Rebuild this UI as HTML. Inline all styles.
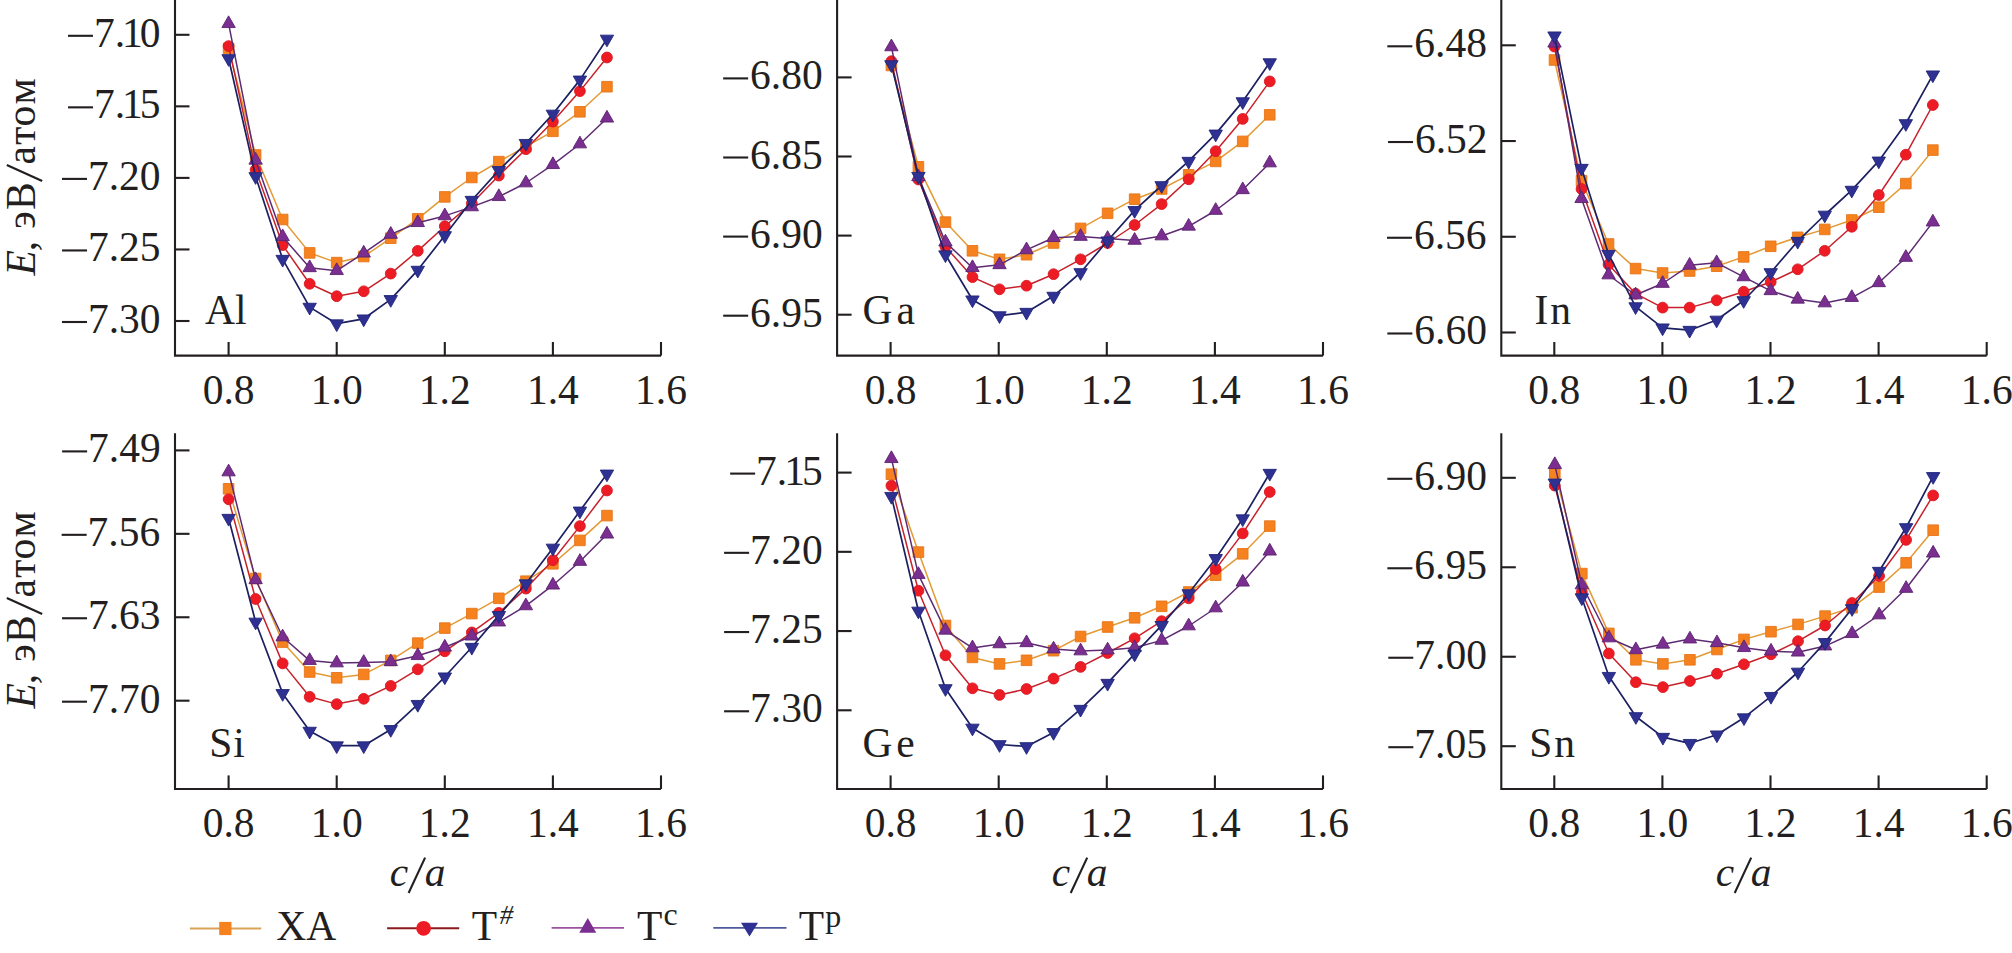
<!DOCTYPE html><html><head><meta charset="utf-8"><style>html,body{margin:0;padding:0;background:#fff;overflow:hidden}svg{display:block}</style></head><body>
<svg width="2012" height="953" viewBox="0 0 2012 953" font-family='"Liberation Serif", serif' fill="#231f20">
<path d="M175.0 0V355.6H661.00" fill="none" stroke="#231f20" stroke-width="2.1"/>
<line x1="228.60" y1="355.6" x2="228.60" y2="342.00" stroke="#231f20" stroke-width="2.1"/>
<text x="228.60" y="403.60" font-size="41.5" text-anchor="middle">0.8</text>
<line x1="336.70" y1="355.6" x2="336.70" y2="342.00" stroke="#231f20" stroke-width="2.1"/>
<text x="336.70" y="403.60" font-size="41.5" text-anchor="middle">1.0</text>
<line x1="444.80" y1="355.6" x2="444.80" y2="342.00" stroke="#231f20" stroke-width="2.1"/>
<text x="444.80" y="403.60" font-size="41.5" text-anchor="middle">1.2</text>
<line x1="552.90" y1="355.6" x2="552.90" y2="342.00" stroke="#231f20" stroke-width="2.1"/>
<text x="552.90" y="403.60" font-size="41.5" text-anchor="middle">1.4</text>
<line x1="661.00" y1="355.6" x2="661.00" y2="342.00" stroke="#231f20" stroke-width="2.1"/>
<text x="661.00" y="403.60" font-size="41.5" text-anchor="middle">1.6</text>
<line x1="175.0" y1="34.80" x2="189.50" y2="34.80" stroke="#231f20" stroke-width="2.1"/>
<rect x="67.99" y="34.75" width="25" height="2.1"/>
<text y="46.80" font-size="41.5"><tspan x="93.96">7</tspan><tspan x="114.71">.</tspan><tspan x="122.08">1</tspan><tspan x="139.83">0</tspan></text>
<line x1="175.0" y1="106.35" x2="189.50" y2="106.35" stroke="#231f20" stroke-width="2.1"/>
<rect x="68.03" y="106.30" width="25" height="2.1"/>
<text y="118.35" font-size="41.5"><tspan x="94.00">7</tspan><tspan x="114.75">.</tspan><tspan x="122.12">1</tspan><tspan x="139.87">5</tspan></text>
<line x1="175.0" y1="177.90" x2="189.50" y2="177.90" stroke="#231f20" stroke-width="2.1"/>
<rect x="61.99" y="177.85" width="25" height="2.1"/>
<text y="189.90" font-size="41.5"><tspan x="87.96">7</tspan><tspan x="108.71">.</tspan><tspan x="119.08">2</tspan><tspan x="139.83">0</tspan></text>
<line x1="175.0" y1="249.45" x2="189.50" y2="249.45" stroke="#231f20" stroke-width="2.1"/>
<rect x="62.03" y="249.40" width="25" height="2.1"/>
<text y="261.45" font-size="41.5"><tspan x="88.00">7</tspan><tspan x="108.75">.</tspan><tspan x="119.12">2</tspan><tspan x="139.87">5</tspan></text>
<line x1="175.0" y1="321.00" x2="189.50" y2="321.00" stroke="#231f20" stroke-width="2.1"/>
<rect x="61.99" y="320.95" width="25" height="2.1"/>
<text y="333.00" font-size="41.5"><tspan x="87.96">7</tspan><tspan x="108.71">.</tspan><tspan x="119.08">3</tspan><tspan x="139.83">0</tspan></text>
<text y="323.70" font-size="41.5"><tspan x="204.96">A</tspan><tspan x="235.04">l</tspan></text>
<path d="M228.60 48.50L255.62 155.00L282.65 219.50L309.67 252.90L336.70 262.60L363.73 256.50L390.75 238.20L417.77 218.80L444.80 196.90L471.82 177.50L498.85 161.60L525.88 146.50L552.90 131.30L579.92 111.80L606.95 86.70" fill="none" stroke="#e39a34" stroke-width="1.5" stroke-linejoin="round"/>
<rect x="223.30" y="43.20" width="10.60" height="10.60" fill="#f5821f" stroke="#e8761c" stroke-width="0.9" stroke-linejoin="round"/>
<rect x="250.32" y="149.70" width="10.60" height="10.60" fill="#f5821f" stroke="#e8761c" stroke-width="0.9" stroke-linejoin="round"/>
<rect x="277.35" y="214.20" width="10.60" height="10.60" fill="#f5821f" stroke="#e8761c" stroke-width="0.9" stroke-linejoin="round"/>
<rect x="304.37" y="247.60" width="10.60" height="10.60" fill="#f5821f" stroke="#e8761c" stroke-width="0.9" stroke-linejoin="round"/>
<rect x="331.40" y="257.30" width="10.60" height="10.60" fill="#f5821f" stroke="#e8761c" stroke-width="0.9" stroke-linejoin="round"/>
<rect x="358.43" y="251.20" width="10.60" height="10.60" fill="#f5821f" stroke="#e8761c" stroke-width="0.9" stroke-linejoin="round"/>
<rect x="385.45" y="232.90" width="10.60" height="10.60" fill="#f5821f" stroke="#e8761c" stroke-width="0.9" stroke-linejoin="round"/>
<rect x="412.47" y="213.50" width="10.60" height="10.60" fill="#f5821f" stroke="#e8761c" stroke-width="0.9" stroke-linejoin="round"/>
<rect x="439.50" y="191.60" width="10.60" height="10.60" fill="#f5821f" stroke="#e8761c" stroke-width="0.9" stroke-linejoin="round"/>
<rect x="466.52" y="172.20" width="10.60" height="10.60" fill="#f5821f" stroke="#e8761c" stroke-width="0.9" stroke-linejoin="round"/>
<rect x="493.55" y="156.30" width="10.60" height="10.60" fill="#f5821f" stroke="#e8761c" stroke-width="0.9" stroke-linejoin="round"/>
<rect x="520.58" y="141.20" width="10.60" height="10.60" fill="#f5821f" stroke="#e8761c" stroke-width="0.9" stroke-linejoin="round"/>
<rect x="547.60" y="126.00" width="10.60" height="10.60" fill="#f5821f" stroke="#e8761c" stroke-width="0.9" stroke-linejoin="round"/>
<rect x="574.62" y="106.50" width="10.60" height="10.60" fill="#f5821f" stroke="#e8761c" stroke-width="0.9" stroke-linejoin="round"/>
<rect x="601.65" y="81.40" width="10.60" height="10.60" fill="#f5821f" stroke="#e8761c" stroke-width="0.9" stroke-linejoin="round"/>
<path d="M228.60 46.10L255.62 169.70L282.65 245.10L309.67 283.80L336.70 296.20L363.73 291.30L390.75 273.60L417.77 250.90L444.80 226.20L471.82 203.40L498.85 175.60L525.88 149.20L552.90 121.60L579.92 91.10L606.95 57.50" fill="none" stroke="#c8202a" stroke-width="1.5" stroke-linejoin="round"/>
<circle cx="228.60" cy="46.10" r="5.40" fill="#ed1c24" stroke="#d81a22" stroke-width="0.9" stroke-linejoin="round"/>
<circle cx="255.62" cy="169.70" r="5.40" fill="#ed1c24" stroke="#d81a22" stroke-width="0.9" stroke-linejoin="round"/>
<circle cx="282.65" cy="245.10" r="5.40" fill="#ed1c24" stroke="#d81a22" stroke-width="0.9" stroke-linejoin="round"/>
<circle cx="309.67" cy="283.80" r="5.40" fill="#ed1c24" stroke="#d81a22" stroke-width="0.9" stroke-linejoin="round"/>
<circle cx="336.70" cy="296.20" r="5.40" fill="#ed1c24" stroke="#d81a22" stroke-width="0.9" stroke-linejoin="round"/>
<circle cx="363.73" cy="291.30" r="5.40" fill="#ed1c24" stroke="#d81a22" stroke-width="0.9" stroke-linejoin="round"/>
<circle cx="390.75" cy="273.60" r="5.40" fill="#ed1c24" stroke="#d81a22" stroke-width="0.9" stroke-linejoin="round"/>
<circle cx="417.77" cy="250.90" r="5.40" fill="#ed1c24" stroke="#d81a22" stroke-width="0.9" stroke-linejoin="round"/>
<circle cx="444.80" cy="226.20" r="5.40" fill="#ed1c24" stroke="#d81a22" stroke-width="0.9" stroke-linejoin="round"/>
<circle cx="471.82" cy="203.40" r="5.40" fill="#ed1c24" stroke="#d81a22" stroke-width="0.9" stroke-linejoin="round"/>
<circle cx="498.85" cy="175.60" r="5.40" fill="#ed1c24" stroke="#d81a22" stroke-width="0.9" stroke-linejoin="round"/>
<circle cx="525.88" cy="149.20" r="5.40" fill="#ed1c24" stroke="#d81a22" stroke-width="0.9" stroke-linejoin="round"/>
<circle cx="552.90" cy="121.60" r="5.40" fill="#ed1c24" stroke="#d81a22" stroke-width="0.9" stroke-linejoin="round"/>
<circle cx="579.92" cy="91.10" r="5.40" fill="#ed1c24" stroke="#d81a22" stroke-width="0.9" stroke-linejoin="round"/>
<circle cx="606.95" cy="57.50" r="5.40" fill="#ed1c24" stroke="#d81a22" stroke-width="0.9" stroke-linejoin="round"/>
<path d="M228.60 23.70L255.62 160.30L282.65 236.80L309.67 267.80L336.70 270.70L363.73 253.20L390.75 234.40L417.77 222.70L444.80 215.90L471.82 206.90L498.85 196.70L525.88 183.00L552.90 164.70L579.92 144.00L606.95 118.20" fill="none" stroke="#5e2b73" stroke-width="1.5" stroke-linejoin="round"/>
<path d="M228.60 15.85L235.30 27.55L221.90 27.55Z" fill="#7a2e8f" stroke="#5c2270" stroke-width="0.9" stroke-linejoin="round"/>
<path d="M255.62 152.45L262.32 164.15L248.93 164.15Z" fill="#7a2e8f" stroke="#5c2270" stroke-width="0.9" stroke-linejoin="round"/>
<path d="M282.65 228.95L289.35 240.65L275.95 240.65Z" fill="#7a2e8f" stroke="#5c2270" stroke-width="0.9" stroke-linejoin="round"/>
<path d="M309.67 259.95L316.37 271.65L302.97 271.65Z" fill="#7a2e8f" stroke="#5c2270" stroke-width="0.9" stroke-linejoin="round"/>
<path d="M336.70 262.85L343.40 274.55L330.00 274.55Z" fill="#7a2e8f" stroke="#5c2270" stroke-width="0.9" stroke-linejoin="round"/>
<path d="M363.73 245.35L370.43 257.05L357.03 257.05Z" fill="#7a2e8f" stroke="#5c2270" stroke-width="0.9" stroke-linejoin="round"/>
<path d="M390.75 226.55L397.45 238.25L384.05 238.25Z" fill="#7a2e8f" stroke="#5c2270" stroke-width="0.9" stroke-linejoin="round"/>
<path d="M417.77 214.85L424.47 226.55L411.07 226.55Z" fill="#7a2e8f" stroke="#5c2270" stroke-width="0.9" stroke-linejoin="round"/>
<path d="M444.80 208.05L451.50 219.75L438.10 219.75Z" fill="#7a2e8f" stroke="#5c2270" stroke-width="0.9" stroke-linejoin="round"/>
<path d="M471.82 199.05L478.52 210.75L465.12 210.75Z" fill="#7a2e8f" stroke="#5c2270" stroke-width="0.9" stroke-linejoin="round"/>
<path d="M498.85 188.85L505.55 200.55L492.15 200.55Z" fill="#7a2e8f" stroke="#5c2270" stroke-width="0.9" stroke-linejoin="round"/>
<path d="M525.88 175.15L532.58 186.85L519.17 186.85Z" fill="#7a2e8f" stroke="#5c2270" stroke-width="0.9" stroke-linejoin="round"/>
<path d="M552.90 156.85L559.60 168.55L546.20 168.55Z" fill="#7a2e8f" stroke="#5c2270" stroke-width="0.9" stroke-linejoin="round"/>
<path d="M579.92 136.15L586.62 147.85L573.22 147.85Z" fill="#7a2e8f" stroke="#5c2270" stroke-width="0.9" stroke-linejoin="round"/>
<path d="M606.95 110.35L613.65 122.05L600.25 122.05Z" fill="#7a2e8f" stroke="#5c2270" stroke-width="0.9" stroke-linejoin="round"/>
<path d="M228.60 58.50L255.62 176.50L282.65 259.20L309.67 307.10L336.70 323.70L363.73 318.80L390.75 299.40L417.77 270.10L444.80 235.50L471.82 200.20L498.85 170.40L525.88 143.30L552.90 114.00L579.92 79.90L606.95 39.00" fill="none" stroke="#1c2060" stroke-width="1.7" stroke-linejoin="round"/>
<path d="M221.90 54.65L235.30 54.65L228.60 66.35Z" fill="#2e3192" stroke="#23277a" stroke-width="0.9" stroke-linejoin="round"/>
<path d="M248.93 172.65L262.32 172.65L255.62 184.35Z" fill="#2e3192" stroke="#23277a" stroke-width="0.9" stroke-linejoin="round"/>
<path d="M275.95 255.35L289.35 255.35L282.65 267.05Z" fill="#2e3192" stroke="#23277a" stroke-width="0.9" stroke-linejoin="round"/>
<path d="M302.97 303.25L316.37 303.25L309.67 314.95Z" fill="#2e3192" stroke="#23277a" stroke-width="0.9" stroke-linejoin="round"/>
<path d="M330.00 319.85L343.40 319.85L336.70 331.55Z" fill="#2e3192" stroke="#23277a" stroke-width="0.9" stroke-linejoin="round"/>
<path d="M357.03 314.95L370.43 314.95L363.73 326.65Z" fill="#2e3192" stroke="#23277a" stroke-width="0.9" stroke-linejoin="round"/>
<path d="M384.05 295.55L397.45 295.55L390.75 307.25Z" fill="#2e3192" stroke="#23277a" stroke-width="0.9" stroke-linejoin="round"/>
<path d="M411.07 266.25L424.47 266.25L417.77 277.95Z" fill="#2e3192" stroke="#23277a" stroke-width="0.9" stroke-linejoin="round"/>
<path d="M438.10 231.65L451.50 231.65L444.80 243.35Z" fill="#2e3192" stroke="#23277a" stroke-width="0.9" stroke-linejoin="round"/>
<path d="M465.12 196.35L478.52 196.35L471.82 208.05Z" fill="#2e3192" stroke="#23277a" stroke-width="0.9" stroke-linejoin="round"/>
<path d="M492.15 166.55L505.55 166.55L498.85 178.25Z" fill="#2e3192" stroke="#23277a" stroke-width="0.9" stroke-linejoin="round"/>
<path d="M519.17 139.45L532.58 139.45L525.88 151.15Z" fill="#2e3192" stroke="#23277a" stroke-width="0.9" stroke-linejoin="round"/>
<path d="M546.20 110.15L559.60 110.15L552.90 121.85Z" fill="#2e3192" stroke="#23277a" stroke-width="0.9" stroke-linejoin="round"/>
<path d="M573.22 76.05L586.62 76.05L579.92 87.75Z" fill="#2e3192" stroke="#23277a" stroke-width="0.9" stroke-linejoin="round"/>
<path d="M600.25 35.15L613.65 35.15L606.95 46.85Z" fill="#2e3192" stroke="#23277a" stroke-width="0.9" stroke-linejoin="round"/>
<path d="M837.1 0V355.6H1323.00" fill="none" stroke="#231f20" stroke-width="2.1"/>
<line x1="890.60" y1="355.6" x2="890.60" y2="342.00" stroke="#231f20" stroke-width="2.1"/>
<text x="890.60" y="403.60" font-size="41.5" text-anchor="middle">0.8</text>
<line x1="998.70" y1="355.6" x2="998.70" y2="342.00" stroke="#231f20" stroke-width="2.1"/>
<text x="998.70" y="403.60" font-size="41.5" text-anchor="middle">1.0</text>
<line x1="1106.80" y1="355.6" x2="1106.80" y2="342.00" stroke="#231f20" stroke-width="2.1"/>
<text x="1106.80" y="403.60" font-size="41.5" text-anchor="middle">1.2</text>
<line x1="1214.90" y1="355.6" x2="1214.90" y2="342.00" stroke="#231f20" stroke-width="2.1"/>
<text x="1214.90" y="403.60" font-size="41.5" text-anchor="middle">1.4</text>
<line x1="1323.00" y1="355.6" x2="1323.00" y2="342.00" stroke="#231f20" stroke-width="2.1"/>
<text x="1323.00" y="403.60" font-size="41.5" text-anchor="middle">1.6</text>
<line x1="837.1" y1="77.40" x2="851.60" y2="77.40" stroke="#231f20" stroke-width="2.1"/>
<rect x="723.14" y="77.35" width="25" height="2.1"/>
<text y="89.40" font-size="41.5"><tspan x="750.06">6</tspan><tspan x="770.81">.</tspan><tspan x="781.18">8</tspan><tspan x="801.93">0</tspan></text>
<line x1="837.1" y1="156.50" x2="851.60" y2="156.50" stroke="#231f20" stroke-width="2.1"/>
<rect x="723.18" y="156.45" width="25" height="2.1"/>
<text y="168.50" font-size="41.5"><tspan x="750.10">6</tspan><tspan x="770.85">.</tspan><tspan x="781.22">8</tspan><tspan x="801.97">5</tspan></text>
<line x1="837.1" y1="235.60" x2="851.60" y2="235.60" stroke="#231f20" stroke-width="2.1"/>
<rect x="723.14" y="235.55" width="25" height="2.1"/>
<text y="247.60" font-size="41.5"><tspan x="750.06">6</tspan><tspan x="770.81">.</tspan><tspan x="781.18">9</tspan><tspan x="801.93">0</tspan></text>
<line x1="837.1" y1="314.70" x2="851.60" y2="314.70" stroke="#231f20" stroke-width="2.1"/>
<rect x="723.18" y="314.65" width="25" height="2.1"/>
<text y="326.70" font-size="41.5"><tspan x="750.10">6</tspan><tspan x="770.85">.</tspan><tspan x="781.22">9</tspan><tspan x="801.97">5</tspan></text>
<text y="323.70" font-size="41.5"><tspan x="862.61">G</tspan><tspan x="896.44">a</tspan></text>
<path d="M891.40 65.50L918.42 166.80L945.45 222.10L972.47 250.80L999.50 259.30L1026.53 254.70L1053.55 243.00L1080.58 228.40L1107.60 213.30L1134.62 199.20L1161.65 189.00L1188.67 174.80L1215.70 161.40L1242.72 141.40L1269.75 114.80" fill="none" stroke="#e39a34" stroke-width="1.5" stroke-linejoin="round"/>
<rect x="886.10" y="60.20" width="10.60" height="10.60" fill="#f5821f" stroke="#e8761c" stroke-width="0.9" stroke-linejoin="round"/>
<rect x="913.12" y="161.50" width="10.60" height="10.60" fill="#f5821f" stroke="#e8761c" stroke-width="0.9" stroke-linejoin="round"/>
<rect x="940.15" y="216.80" width="10.60" height="10.60" fill="#f5821f" stroke="#e8761c" stroke-width="0.9" stroke-linejoin="round"/>
<rect x="967.17" y="245.50" width="10.60" height="10.60" fill="#f5821f" stroke="#e8761c" stroke-width="0.9" stroke-linejoin="round"/>
<rect x="994.20" y="254.00" width="10.60" height="10.60" fill="#f5821f" stroke="#e8761c" stroke-width="0.9" stroke-linejoin="round"/>
<rect x="1021.23" y="249.40" width="10.60" height="10.60" fill="#f5821f" stroke="#e8761c" stroke-width="0.9" stroke-linejoin="round"/>
<rect x="1048.25" y="237.70" width="10.60" height="10.60" fill="#f5821f" stroke="#e8761c" stroke-width="0.9" stroke-linejoin="round"/>
<rect x="1075.28" y="223.10" width="10.60" height="10.60" fill="#f5821f" stroke="#e8761c" stroke-width="0.9" stroke-linejoin="round"/>
<rect x="1102.30" y="208.00" width="10.60" height="10.60" fill="#f5821f" stroke="#e8761c" stroke-width="0.9" stroke-linejoin="round"/>
<rect x="1129.33" y="193.90" width="10.60" height="10.60" fill="#f5821f" stroke="#e8761c" stroke-width="0.9" stroke-linejoin="round"/>
<rect x="1156.35" y="183.70" width="10.60" height="10.60" fill="#f5821f" stroke="#e8761c" stroke-width="0.9" stroke-linejoin="round"/>
<rect x="1183.38" y="169.50" width="10.60" height="10.60" fill="#f5821f" stroke="#e8761c" stroke-width="0.9" stroke-linejoin="round"/>
<rect x="1210.40" y="156.10" width="10.60" height="10.60" fill="#f5821f" stroke="#e8761c" stroke-width="0.9" stroke-linejoin="round"/>
<rect x="1237.42" y="136.10" width="10.60" height="10.60" fill="#f5821f" stroke="#e8761c" stroke-width="0.9" stroke-linejoin="round"/>
<rect x="1264.45" y="109.50" width="10.60" height="10.60" fill="#f5821f" stroke="#e8761c" stroke-width="0.9" stroke-linejoin="round"/>
<path d="M891.40 61.20L918.42 179.50L945.45 246.70L972.47 277.10L999.50 289.30L1026.53 285.70L1053.55 274.20L1080.58 259.30L1107.60 243.00L1134.62 225.00L1161.65 204.10L1188.67 179.30L1215.70 151.20L1242.72 118.90L1269.75 81.40" fill="none" stroke="#c8202a" stroke-width="1.5" stroke-linejoin="round"/>
<circle cx="891.40" cy="61.20" r="5.40" fill="#ed1c24" stroke="#d81a22" stroke-width="0.9" stroke-linejoin="round"/>
<circle cx="918.42" cy="179.50" r="5.40" fill="#ed1c24" stroke="#d81a22" stroke-width="0.9" stroke-linejoin="round"/>
<circle cx="945.45" cy="246.70" r="5.40" fill="#ed1c24" stroke="#d81a22" stroke-width="0.9" stroke-linejoin="round"/>
<circle cx="972.47" cy="277.10" r="5.40" fill="#ed1c24" stroke="#d81a22" stroke-width="0.9" stroke-linejoin="round"/>
<circle cx="999.50" cy="289.30" r="5.40" fill="#ed1c24" stroke="#d81a22" stroke-width="0.9" stroke-linejoin="round"/>
<circle cx="1026.53" cy="285.70" r="5.40" fill="#ed1c24" stroke="#d81a22" stroke-width="0.9" stroke-linejoin="round"/>
<circle cx="1053.55" cy="274.20" r="5.40" fill="#ed1c24" stroke="#d81a22" stroke-width="0.9" stroke-linejoin="round"/>
<circle cx="1080.58" cy="259.30" r="5.40" fill="#ed1c24" stroke="#d81a22" stroke-width="0.9" stroke-linejoin="round"/>
<circle cx="1107.60" cy="243.00" r="5.40" fill="#ed1c24" stroke="#d81a22" stroke-width="0.9" stroke-linejoin="round"/>
<circle cx="1134.62" cy="225.00" r="5.40" fill="#ed1c24" stroke="#d81a22" stroke-width="0.9" stroke-linejoin="round"/>
<circle cx="1161.65" cy="204.10" r="5.40" fill="#ed1c24" stroke="#d81a22" stroke-width="0.9" stroke-linejoin="round"/>
<circle cx="1188.67" cy="179.30" r="5.40" fill="#ed1c24" stroke="#d81a22" stroke-width="0.9" stroke-linejoin="round"/>
<circle cx="1215.70" cy="151.20" r="5.40" fill="#ed1c24" stroke="#d81a22" stroke-width="0.9" stroke-linejoin="round"/>
<circle cx="1242.72" cy="118.90" r="5.40" fill="#ed1c24" stroke="#d81a22" stroke-width="0.9" stroke-linejoin="round"/>
<circle cx="1269.75" cy="81.40" r="5.40" fill="#ed1c24" stroke="#d81a22" stroke-width="0.9" stroke-linejoin="round"/>
<path d="M891.40 46.90L918.42 176.80L945.45 242.10L972.47 267.70L999.50 264.80L1026.53 249.90L1053.55 237.70L1080.58 236.50L1107.60 238.50L1134.62 240.40L1161.65 236.00L1188.67 226.30L1215.70 210.50L1242.72 189.80L1269.75 163.00" fill="none" stroke="#5e2b73" stroke-width="1.5" stroke-linejoin="round"/>
<path d="M891.40 39.05L898.10 50.75L884.70 50.75Z" fill="#7a2e8f" stroke="#5c2270" stroke-width="0.9" stroke-linejoin="round"/>
<path d="M918.42 168.95L925.12 180.65L911.72 180.65Z" fill="#7a2e8f" stroke="#5c2270" stroke-width="0.9" stroke-linejoin="round"/>
<path d="M945.45 234.25L952.15 245.95L938.75 245.95Z" fill="#7a2e8f" stroke="#5c2270" stroke-width="0.9" stroke-linejoin="round"/>
<path d="M972.47 259.85L979.17 271.55L965.77 271.55Z" fill="#7a2e8f" stroke="#5c2270" stroke-width="0.9" stroke-linejoin="round"/>
<path d="M999.50 256.95L1006.20 268.65L992.80 268.65Z" fill="#7a2e8f" stroke="#5c2270" stroke-width="0.9" stroke-linejoin="round"/>
<path d="M1026.53 242.05L1033.23 253.75L1019.83 253.75Z" fill="#7a2e8f" stroke="#5c2270" stroke-width="0.9" stroke-linejoin="round"/>
<path d="M1053.55 229.85L1060.25 241.55L1046.85 241.55Z" fill="#7a2e8f" stroke="#5c2270" stroke-width="0.9" stroke-linejoin="round"/>
<path d="M1080.58 228.65L1087.28 240.35L1073.88 240.35Z" fill="#7a2e8f" stroke="#5c2270" stroke-width="0.9" stroke-linejoin="round"/>
<path d="M1107.60 230.65L1114.30 242.35L1100.90 242.35Z" fill="#7a2e8f" stroke="#5c2270" stroke-width="0.9" stroke-linejoin="round"/>
<path d="M1134.62 232.55L1141.33 244.25L1127.92 244.25Z" fill="#7a2e8f" stroke="#5c2270" stroke-width="0.9" stroke-linejoin="round"/>
<path d="M1161.65 228.15L1168.35 239.85L1154.95 239.85Z" fill="#7a2e8f" stroke="#5c2270" stroke-width="0.9" stroke-linejoin="round"/>
<path d="M1188.67 218.45L1195.38 230.15L1181.97 230.15Z" fill="#7a2e8f" stroke="#5c2270" stroke-width="0.9" stroke-linejoin="round"/>
<path d="M1215.70 202.65L1222.40 214.35L1209.00 214.35Z" fill="#7a2e8f" stroke="#5c2270" stroke-width="0.9" stroke-linejoin="round"/>
<path d="M1242.72 181.95L1249.42 193.65L1236.02 193.65Z" fill="#7a2e8f" stroke="#5c2270" stroke-width="0.9" stroke-linejoin="round"/>
<path d="M1269.75 155.15L1276.45 166.85L1263.05 166.85Z" fill="#7a2e8f" stroke="#5c2270" stroke-width="0.9" stroke-linejoin="round"/>
<path d="M891.40 64.60L918.42 176.30L945.45 254.70L972.47 299.80L999.50 315.60L1026.53 312.20L1053.55 296.10L1080.58 272.50L1107.60 240.80L1134.62 210.40L1161.65 185.50L1188.67 161.20L1215.70 133.90L1242.72 101.60L1269.75 62.60" fill="none" stroke="#1c2060" stroke-width="1.7" stroke-linejoin="round"/>
<path d="M884.70 60.75L898.10 60.75L891.40 72.45Z" fill="#2e3192" stroke="#23277a" stroke-width="0.9" stroke-linejoin="round"/>
<path d="M911.72 172.45L925.12 172.45L918.42 184.15Z" fill="#2e3192" stroke="#23277a" stroke-width="0.9" stroke-linejoin="round"/>
<path d="M938.75 250.85L952.15 250.85L945.45 262.55Z" fill="#2e3192" stroke="#23277a" stroke-width="0.9" stroke-linejoin="round"/>
<path d="M965.77 295.95L979.17 295.95L972.47 307.65Z" fill="#2e3192" stroke="#23277a" stroke-width="0.9" stroke-linejoin="round"/>
<path d="M992.80 311.75L1006.20 311.75L999.50 323.45Z" fill="#2e3192" stroke="#23277a" stroke-width="0.9" stroke-linejoin="round"/>
<path d="M1019.83 308.35L1033.23 308.35L1026.53 320.05Z" fill="#2e3192" stroke="#23277a" stroke-width="0.9" stroke-linejoin="round"/>
<path d="M1046.85 292.25L1060.25 292.25L1053.55 303.95Z" fill="#2e3192" stroke="#23277a" stroke-width="0.9" stroke-linejoin="round"/>
<path d="M1073.88 268.65L1087.28 268.65L1080.58 280.35Z" fill="#2e3192" stroke="#23277a" stroke-width="0.9" stroke-linejoin="round"/>
<path d="M1100.90 236.95L1114.30 236.95L1107.60 248.65Z" fill="#2e3192" stroke="#23277a" stroke-width="0.9" stroke-linejoin="round"/>
<path d="M1127.92 206.55L1141.33 206.55L1134.62 218.25Z" fill="#2e3192" stroke="#23277a" stroke-width="0.9" stroke-linejoin="round"/>
<path d="M1154.95 181.65L1168.35 181.65L1161.65 193.35Z" fill="#2e3192" stroke="#23277a" stroke-width="0.9" stroke-linejoin="round"/>
<path d="M1181.97 157.35L1195.38 157.35L1188.67 169.05Z" fill="#2e3192" stroke="#23277a" stroke-width="0.9" stroke-linejoin="round"/>
<path d="M1209.00 130.05L1222.40 130.05L1215.70 141.75Z" fill="#2e3192" stroke="#23277a" stroke-width="0.9" stroke-linejoin="round"/>
<path d="M1236.02 97.75L1249.42 97.75L1242.72 109.45Z" fill="#2e3192" stroke="#23277a" stroke-width="0.9" stroke-linejoin="round"/>
<path d="M1263.05 58.75L1276.45 58.75L1269.75 70.45Z" fill="#2e3192" stroke="#23277a" stroke-width="0.9" stroke-linejoin="round"/>
<path d="M1501.3 0V355.6H1986.70" fill="none" stroke="#231f20" stroke-width="2.1"/>
<line x1="1554.30" y1="355.6" x2="1554.30" y2="342.00" stroke="#231f20" stroke-width="2.1"/>
<text x="1554.30" y="403.60" font-size="41.5" text-anchor="middle">0.8</text>
<line x1="1662.40" y1="355.6" x2="1662.40" y2="342.00" stroke="#231f20" stroke-width="2.1"/>
<text x="1662.40" y="403.60" font-size="41.5" text-anchor="middle">1.0</text>
<line x1="1770.50" y1="355.6" x2="1770.50" y2="342.00" stroke="#231f20" stroke-width="2.1"/>
<text x="1770.50" y="403.60" font-size="41.5" text-anchor="middle">1.2</text>
<line x1="1878.60" y1="355.6" x2="1878.60" y2="342.00" stroke="#231f20" stroke-width="2.1"/>
<text x="1878.60" y="403.60" font-size="41.5" text-anchor="middle">1.4</text>
<line x1="1986.70" y1="355.6" x2="1986.70" y2="342.00" stroke="#231f20" stroke-width="2.1"/>
<text x="1986.70" y="403.60" font-size="41.5" text-anchor="middle">1.6</text>
<line x1="1501.3" y1="45.30" x2="1515.80" y2="45.30" stroke="#231f20" stroke-width="2.1"/>
<rect x="1387.34" y="45.25" width="25" height="2.1"/>
<text y="57.30" font-size="41.5"><tspan x="1414.26">6</tspan><tspan x="1435.01">.</tspan><tspan x="1445.38">4</tspan><tspan x="1466.13">8</tspan></text>
<line x1="1501.3" y1="141.03" x2="1515.80" y2="141.03" stroke="#231f20" stroke-width="2.1"/>
<rect x="1388.05" y="140.98" width="25" height="2.1"/>
<text y="153.03" font-size="41.5"><tspan x="1414.97">6</tspan><tspan x="1435.72">.</tspan><tspan x="1446.09">5</tspan><tspan x="1466.84">2</tspan></text>
<line x1="1501.3" y1="236.76" x2="1515.80" y2="236.76" stroke="#231f20" stroke-width="2.1"/>
<rect x="1387.00" y="236.71" width="25" height="2.1"/>
<text y="248.76" font-size="41.5"><tspan x="1413.91">6</tspan><tspan x="1434.66">.</tspan><tspan x="1445.04">5</tspan><tspan x="1465.79">6</tspan></text>
<line x1="1501.3" y1="332.49" x2="1515.80" y2="332.49" stroke="#231f20" stroke-width="2.1"/>
<rect x="1387.34" y="332.44" width="25" height="2.1"/>
<text y="344.49" font-size="41.5"><tspan x="1414.26">6</tspan><tspan x="1435.01">.</tspan><tspan x="1445.38">6</tspan><tspan x="1466.13">0</tspan></text>
<text y="323.70" font-size="41.5"><tspan x="1534.47">I</tspan><tspan x="1550.36">n</tspan></text>
<path d="M1554.50 60.00L1581.53 180.70L1608.55 244.00L1635.58 268.60L1662.60 273.00L1689.62 271.00L1716.65 266.20L1743.67 256.90L1770.70 246.30L1797.72 237.30L1824.75 229.40L1851.78 220.00L1878.80 207.20L1905.83 183.60L1932.85 150.10" fill="none" stroke="#e39a34" stroke-width="1.5" stroke-linejoin="round"/>
<rect x="1549.20" y="54.70" width="10.60" height="10.60" fill="#f5821f" stroke="#e8761c" stroke-width="0.9" stroke-linejoin="round"/>
<rect x="1576.23" y="175.40" width="10.60" height="10.60" fill="#f5821f" stroke="#e8761c" stroke-width="0.9" stroke-linejoin="round"/>
<rect x="1603.25" y="238.70" width="10.60" height="10.60" fill="#f5821f" stroke="#e8761c" stroke-width="0.9" stroke-linejoin="round"/>
<rect x="1630.28" y="263.30" width="10.60" height="10.60" fill="#f5821f" stroke="#e8761c" stroke-width="0.9" stroke-linejoin="round"/>
<rect x="1657.30" y="267.70" width="10.60" height="10.60" fill="#f5821f" stroke="#e8761c" stroke-width="0.9" stroke-linejoin="round"/>
<rect x="1684.33" y="265.70" width="10.60" height="10.60" fill="#f5821f" stroke="#e8761c" stroke-width="0.9" stroke-linejoin="round"/>
<rect x="1711.35" y="260.90" width="10.60" height="10.60" fill="#f5821f" stroke="#e8761c" stroke-width="0.9" stroke-linejoin="round"/>
<rect x="1738.38" y="251.60" width="10.60" height="10.60" fill="#f5821f" stroke="#e8761c" stroke-width="0.9" stroke-linejoin="round"/>
<rect x="1765.40" y="241.00" width="10.60" height="10.60" fill="#f5821f" stroke="#e8761c" stroke-width="0.9" stroke-linejoin="round"/>
<rect x="1792.42" y="232.00" width="10.60" height="10.60" fill="#f5821f" stroke="#e8761c" stroke-width="0.9" stroke-linejoin="round"/>
<rect x="1819.45" y="224.10" width="10.60" height="10.60" fill="#f5821f" stroke="#e8761c" stroke-width="0.9" stroke-linejoin="round"/>
<rect x="1846.48" y="214.70" width="10.60" height="10.60" fill="#f5821f" stroke="#e8761c" stroke-width="0.9" stroke-linejoin="round"/>
<rect x="1873.50" y="201.90" width="10.60" height="10.60" fill="#f5821f" stroke="#e8761c" stroke-width="0.9" stroke-linejoin="round"/>
<rect x="1900.53" y="178.30" width="10.60" height="10.60" fill="#f5821f" stroke="#e8761c" stroke-width="0.9" stroke-linejoin="round"/>
<rect x="1927.55" y="144.80" width="10.60" height="10.60" fill="#f5821f" stroke="#e8761c" stroke-width="0.9" stroke-linejoin="round"/>
<path d="M1554.50 46.60L1581.53 189.00L1608.55 264.50L1635.58 293.70L1662.60 307.60L1689.62 307.60L1716.65 300.30L1743.67 291.70L1770.70 282.00L1797.72 269.30L1824.75 250.80L1851.78 226.80L1878.80 195.00L1905.83 154.70L1932.85 105.00" fill="none" stroke="#c8202a" stroke-width="1.5" stroke-linejoin="round"/>
<circle cx="1554.50" cy="46.60" r="5.40" fill="#ed1c24" stroke="#d81a22" stroke-width="0.9" stroke-linejoin="round"/>
<circle cx="1581.53" cy="189.00" r="5.40" fill="#ed1c24" stroke="#d81a22" stroke-width="0.9" stroke-linejoin="round"/>
<circle cx="1608.55" cy="264.50" r="5.40" fill="#ed1c24" stroke="#d81a22" stroke-width="0.9" stroke-linejoin="round"/>
<circle cx="1635.58" cy="293.70" r="5.40" fill="#ed1c24" stroke="#d81a22" stroke-width="0.9" stroke-linejoin="round"/>
<circle cx="1662.60" cy="307.60" r="5.40" fill="#ed1c24" stroke="#d81a22" stroke-width="0.9" stroke-linejoin="round"/>
<circle cx="1689.62" cy="307.60" r="5.40" fill="#ed1c24" stroke="#d81a22" stroke-width="0.9" stroke-linejoin="round"/>
<circle cx="1716.65" cy="300.30" r="5.40" fill="#ed1c24" stroke="#d81a22" stroke-width="0.9" stroke-linejoin="round"/>
<circle cx="1743.67" cy="291.70" r="5.40" fill="#ed1c24" stroke="#d81a22" stroke-width="0.9" stroke-linejoin="round"/>
<circle cx="1770.70" cy="282.00" r="5.40" fill="#ed1c24" stroke="#d81a22" stroke-width="0.9" stroke-linejoin="round"/>
<circle cx="1797.72" cy="269.30" r="5.40" fill="#ed1c24" stroke="#d81a22" stroke-width="0.9" stroke-linejoin="round"/>
<circle cx="1824.75" cy="250.80" r="5.40" fill="#ed1c24" stroke="#d81a22" stroke-width="0.9" stroke-linejoin="round"/>
<circle cx="1851.78" cy="226.80" r="5.40" fill="#ed1c24" stroke="#d81a22" stroke-width="0.9" stroke-linejoin="round"/>
<circle cx="1878.80" cy="195.00" r="5.40" fill="#ed1c24" stroke="#d81a22" stroke-width="0.9" stroke-linejoin="round"/>
<circle cx="1905.83" cy="154.70" r="5.40" fill="#ed1c24" stroke="#d81a22" stroke-width="0.9" stroke-linejoin="round"/>
<circle cx="1932.85" cy="105.00" r="5.40" fill="#ed1c24" stroke="#d81a22" stroke-width="0.9" stroke-linejoin="round"/>
<path d="M1554.50 43.20L1581.53 198.70L1608.55 275.00L1635.58 295.00L1662.60 283.50L1689.62 265.30L1716.65 262.80L1743.67 276.90L1770.70 290.80L1797.72 299.30L1824.75 303.00L1851.78 297.60L1878.80 282.80L1905.83 257.50L1932.85 222.10" fill="none" stroke="#5e2b73" stroke-width="1.5" stroke-linejoin="round"/>
<path d="M1554.50 35.35L1561.20 47.05L1547.80 47.05Z" fill="#7a2e8f" stroke="#5c2270" stroke-width="0.9" stroke-linejoin="round"/>
<path d="M1581.53 190.85L1588.23 202.55L1574.83 202.55Z" fill="#7a2e8f" stroke="#5c2270" stroke-width="0.9" stroke-linejoin="round"/>
<path d="M1608.55 267.15L1615.25 278.85L1601.85 278.85Z" fill="#7a2e8f" stroke="#5c2270" stroke-width="0.9" stroke-linejoin="round"/>
<path d="M1635.58 287.15L1642.28 298.85L1628.88 298.85Z" fill="#7a2e8f" stroke="#5c2270" stroke-width="0.9" stroke-linejoin="round"/>
<path d="M1662.60 275.65L1669.30 287.35L1655.90 287.35Z" fill="#7a2e8f" stroke="#5c2270" stroke-width="0.9" stroke-linejoin="round"/>
<path d="M1689.62 257.45L1696.33 269.15L1682.92 269.15Z" fill="#7a2e8f" stroke="#5c2270" stroke-width="0.9" stroke-linejoin="round"/>
<path d="M1716.65 254.95L1723.35 266.65L1709.95 266.65Z" fill="#7a2e8f" stroke="#5c2270" stroke-width="0.9" stroke-linejoin="round"/>
<path d="M1743.67 269.05L1750.38 280.75L1736.97 280.75Z" fill="#7a2e8f" stroke="#5c2270" stroke-width="0.9" stroke-linejoin="round"/>
<path d="M1770.70 282.95L1777.40 294.65L1764.00 294.65Z" fill="#7a2e8f" stroke="#5c2270" stroke-width="0.9" stroke-linejoin="round"/>
<path d="M1797.72 291.45L1804.42 303.15L1791.02 303.15Z" fill="#7a2e8f" stroke="#5c2270" stroke-width="0.9" stroke-linejoin="round"/>
<path d="M1824.75 295.15L1831.45 306.85L1818.05 306.85Z" fill="#7a2e8f" stroke="#5c2270" stroke-width="0.9" stroke-linejoin="round"/>
<path d="M1851.78 289.75L1858.48 301.45L1845.08 301.45Z" fill="#7a2e8f" stroke="#5c2270" stroke-width="0.9" stroke-linejoin="round"/>
<path d="M1878.80 274.95L1885.50 286.65L1872.10 286.65Z" fill="#7a2e8f" stroke="#5c2270" stroke-width="0.9" stroke-linejoin="round"/>
<path d="M1905.83 249.65L1912.53 261.35L1899.12 261.35Z" fill="#7a2e8f" stroke="#5c2270" stroke-width="0.9" stroke-linejoin="round"/>
<path d="M1932.85 214.25L1939.55 225.95L1926.15 225.95Z" fill="#7a2e8f" stroke="#5c2270" stroke-width="0.9" stroke-linejoin="round"/>
<path d="M1554.50 35.80L1581.53 168.20L1608.55 254.20L1635.58 306.60L1662.60 327.80L1689.62 330.20L1716.65 320.00L1743.67 300.50L1770.70 272.50L1797.72 241.20L1824.75 215.00L1851.78 190.10L1878.80 160.90L1905.83 123.50L1932.85 74.80" fill="none" stroke="#1c2060" stroke-width="1.7" stroke-linejoin="round"/>
<path d="M1547.80 31.95L1561.20 31.95L1554.50 43.65Z" fill="#2e3192" stroke="#23277a" stroke-width="0.9" stroke-linejoin="round"/>
<path d="M1574.83 164.35L1588.23 164.35L1581.53 176.05Z" fill="#2e3192" stroke="#23277a" stroke-width="0.9" stroke-linejoin="round"/>
<path d="M1601.85 250.35L1615.25 250.35L1608.55 262.05Z" fill="#2e3192" stroke="#23277a" stroke-width="0.9" stroke-linejoin="round"/>
<path d="M1628.88 302.75L1642.28 302.75L1635.58 314.45Z" fill="#2e3192" stroke="#23277a" stroke-width="0.9" stroke-linejoin="round"/>
<path d="M1655.90 323.95L1669.30 323.95L1662.60 335.65Z" fill="#2e3192" stroke="#23277a" stroke-width="0.9" stroke-linejoin="round"/>
<path d="M1682.92 326.35L1696.33 326.35L1689.62 338.05Z" fill="#2e3192" stroke="#23277a" stroke-width="0.9" stroke-linejoin="round"/>
<path d="M1709.95 316.15L1723.35 316.15L1716.65 327.85Z" fill="#2e3192" stroke="#23277a" stroke-width="0.9" stroke-linejoin="round"/>
<path d="M1736.97 296.65L1750.38 296.65L1743.67 308.35Z" fill="#2e3192" stroke="#23277a" stroke-width="0.9" stroke-linejoin="round"/>
<path d="M1764.00 268.65L1777.40 268.65L1770.70 280.35Z" fill="#2e3192" stroke="#23277a" stroke-width="0.9" stroke-linejoin="round"/>
<path d="M1791.02 237.35L1804.42 237.35L1797.72 249.05Z" fill="#2e3192" stroke="#23277a" stroke-width="0.9" stroke-linejoin="round"/>
<path d="M1818.05 211.15L1831.45 211.15L1824.75 222.85Z" fill="#2e3192" stroke="#23277a" stroke-width="0.9" stroke-linejoin="round"/>
<path d="M1845.08 186.25L1858.48 186.25L1851.78 197.95Z" fill="#2e3192" stroke="#23277a" stroke-width="0.9" stroke-linejoin="round"/>
<path d="M1872.10 157.05L1885.50 157.05L1878.80 168.75Z" fill="#2e3192" stroke="#23277a" stroke-width="0.9" stroke-linejoin="round"/>
<path d="M1899.12 119.65L1912.53 119.65L1905.83 131.35Z" fill="#2e3192" stroke="#23277a" stroke-width="0.9" stroke-linejoin="round"/>
<path d="M1926.15 70.95L1939.55 70.95L1932.85 82.65Z" fill="#2e3192" stroke="#23277a" stroke-width="0.9" stroke-linejoin="round"/>
<path d="M175.0 433.2V789.0H661.00" fill="none" stroke="#231f20" stroke-width="2.1"/>
<line x1="228.60" y1="789.0" x2="228.60" y2="775.40" stroke="#231f20" stroke-width="2.1"/>
<text x="228.60" y="837.00" font-size="41.5" text-anchor="middle">0.8</text>
<line x1="336.70" y1="789.0" x2="336.70" y2="775.40" stroke="#231f20" stroke-width="2.1"/>
<text x="336.70" y="837.00" font-size="41.5" text-anchor="middle">1.0</text>
<line x1="444.80" y1="789.0" x2="444.80" y2="775.40" stroke="#231f20" stroke-width="2.1"/>
<text x="444.80" y="837.00" font-size="41.5" text-anchor="middle">1.2</text>
<line x1="552.90" y1="789.0" x2="552.90" y2="775.40" stroke="#231f20" stroke-width="2.1"/>
<text x="552.90" y="837.00" font-size="41.5" text-anchor="middle">1.4</text>
<line x1="661.00" y1="789.0" x2="661.00" y2="775.40" stroke="#231f20" stroke-width="2.1"/>
<text x="661.00" y="837.00" font-size="41.5" text-anchor="middle">1.6</text>
<line x1="175.0" y1="450.40" x2="189.50" y2="450.40" stroke="#231f20" stroke-width="2.1"/>
<rect x="62.11" y="450.35" width="25" height="2.1"/>
<text y="462.40" font-size="41.5"><tspan x="88.08">7</tspan><tspan x="108.83">.</tspan><tspan x="119.20">4</tspan><tspan x="139.95">9</tspan></text>
<line x1="175.0" y1="533.83" x2="189.50" y2="533.83" stroke="#231f20" stroke-width="2.1"/>
<rect x="61.65" y="533.78" width="25" height="2.1"/>
<text y="545.83" font-size="41.5"><tspan x="87.61">7</tspan><tspan x="108.36">.</tspan><tspan x="118.74">5</tspan><tspan x="139.49">6</tspan></text>
<line x1="175.0" y1="617.26" x2="189.50" y2="617.26" stroke="#231f20" stroke-width="2.1"/>
<rect x="62.03" y="617.21" width="25" height="2.1"/>
<text y="629.26" font-size="41.5"><tspan x="88.00">7</tspan><tspan x="108.75">.</tspan><tspan x="119.12">6</tspan><tspan x="139.87">3</tspan></text>
<line x1="175.0" y1="700.69" x2="189.50" y2="700.69" stroke="#231f20" stroke-width="2.1"/>
<rect x="61.99" y="700.64" width="25" height="2.1"/>
<text y="712.69" font-size="41.5"><tspan x="87.96">7</tspan><tspan x="108.71">.</tspan><tspan x="119.08">7</tspan><tspan x="139.83">0</tspan></text>
<text y="756.80" font-size="41.5"><tspan x="209.36">S</tspan><tspan x="233.29">i</tspan></text>
<path d="M228.60 488.80L255.62 578.50L282.65 642.10L309.67 672.00L336.70 677.80L363.73 674.40L390.75 660.40L417.77 643.10L444.80 628.10L471.82 613.60L498.85 598.30L525.88 581.20L552.90 563.80L579.92 540.40L606.95 515.60" fill="none" stroke="#e39a34" stroke-width="1.5" stroke-linejoin="round"/>
<rect x="223.30" y="483.50" width="10.60" height="10.60" fill="#f5821f" stroke="#e8761c" stroke-width="0.9" stroke-linejoin="round"/>
<rect x="250.32" y="573.20" width="10.60" height="10.60" fill="#f5821f" stroke="#e8761c" stroke-width="0.9" stroke-linejoin="round"/>
<rect x="277.35" y="636.80" width="10.60" height="10.60" fill="#f5821f" stroke="#e8761c" stroke-width="0.9" stroke-linejoin="round"/>
<rect x="304.37" y="666.70" width="10.60" height="10.60" fill="#f5821f" stroke="#e8761c" stroke-width="0.9" stroke-linejoin="round"/>
<rect x="331.40" y="672.50" width="10.60" height="10.60" fill="#f5821f" stroke="#e8761c" stroke-width="0.9" stroke-linejoin="round"/>
<rect x="358.43" y="669.10" width="10.60" height="10.60" fill="#f5821f" stroke="#e8761c" stroke-width="0.9" stroke-linejoin="round"/>
<rect x="385.45" y="655.10" width="10.60" height="10.60" fill="#f5821f" stroke="#e8761c" stroke-width="0.9" stroke-linejoin="round"/>
<rect x="412.47" y="637.80" width="10.60" height="10.60" fill="#f5821f" stroke="#e8761c" stroke-width="0.9" stroke-linejoin="round"/>
<rect x="439.50" y="622.80" width="10.60" height="10.60" fill="#f5821f" stroke="#e8761c" stroke-width="0.9" stroke-linejoin="round"/>
<rect x="466.52" y="608.30" width="10.60" height="10.60" fill="#f5821f" stroke="#e8761c" stroke-width="0.9" stroke-linejoin="round"/>
<rect x="493.55" y="593.00" width="10.60" height="10.60" fill="#f5821f" stroke="#e8761c" stroke-width="0.9" stroke-linejoin="round"/>
<rect x="520.58" y="575.90" width="10.60" height="10.60" fill="#f5821f" stroke="#e8761c" stroke-width="0.9" stroke-linejoin="round"/>
<rect x="547.60" y="558.50" width="10.60" height="10.60" fill="#f5821f" stroke="#e8761c" stroke-width="0.9" stroke-linejoin="round"/>
<rect x="574.62" y="535.10" width="10.60" height="10.60" fill="#f5821f" stroke="#e8761c" stroke-width="0.9" stroke-linejoin="round"/>
<rect x="601.65" y="510.30" width="10.60" height="10.60" fill="#f5821f" stroke="#e8761c" stroke-width="0.9" stroke-linejoin="round"/>
<path d="M228.60 499.30L255.62 599.00L282.65 663.40L309.67 696.80L336.70 704.10L363.73 698.80L390.75 685.90L417.77 669.30L444.80 651.30L471.82 632.40L498.85 612.90L525.88 588.60L552.90 560.20L579.92 526.10L606.95 490.50" fill="none" stroke="#c8202a" stroke-width="1.5" stroke-linejoin="round"/>
<circle cx="228.60" cy="499.30" r="5.40" fill="#ed1c24" stroke="#d81a22" stroke-width="0.9" stroke-linejoin="round"/>
<circle cx="255.62" cy="599.00" r="5.40" fill="#ed1c24" stroke="#d81a22" stroke-width="0.9" stroke-linejoin="round"/>
<circle cx="282.65" cy="663.40" r="5.40" fill="#ed1c24" stroke="#d81a22" stroke-width="0.9" stroke-linejoin="round"/>
<circle cx="309.67" cy="696.80" r="5.40" fill="#ed1c24" stroke="#d81a22" stroke-width="0.9" stroke-linejoin="round"/>
<circle cx="336.70" cy="704.10" r="5.40" fill="#ed1c24" stroke="#d81a22" stroke-width="0.9" stroke-linejoin="round"/>
<circle cx="363.73" cy="698.80" r="5.40" fill="#ed1c24" stroke="#d81a22" stroke-width="0.9" stroke-linejoin="round"/>
<circle cx="390.75" cy="685.90" r="5.40" fill="#ed1c24" stroke="#d81a22" stroke-width="0.9" stroke-linejoin="round"/>
<circle cx="417.77" cy="669.30" r="5.40" fill="#ed1c24" stroke="#d81a22" stroke-width="0.9" stroke-linejoin="round"/>
<circle cx="444.80" cy="651.30" r="5.40" fill="#ed1c24" stroke="#d81a22" stroke-width="0.9" stroke-linejoin="round"/>
<circle cx="471.82" cy="632.40" r="5.40" fill="#ed1c24" stroke="#d81a22" stroke-width="0.9" stroke-linejoin="round"/>
<circle cx="498.85" cy="612.90" r="5.40" fill="#ed1c24" stroke="#d81a22" stroke-width="0.9" stroke-linejoin="round"/>
<circle cx="525.88" cy="588.60" r="5.40" fill="#ed1c24" stroke="#d81a22" stroke-width="0.9" stroke-linejoin="round"/>
<circle cx="552.90" cy="560.20" r="5.40" fill="#ed1c24" stroke="#d81a22" stroke-width="0.9" stroke-linejoin="round"/>
<circle cx="579.92" cy="526.10" r="5.40" fill="#ed1c24" stroke="#d81a22" stroke-width="0.9" stroke-linejoin="round"/>
<circle cx="606.95" cy="490.50" r="5.40" fill="#ed1c24" stroke="#d81a22" stroke-width="0.9" stroke-linejoin="round"/>
<path d="M228.60 472.00L255.62 579.80L282.65 637.00L309.67 660.60L336.70 663.00L363.73 662.50L390.75 661.80L417.77 655.70L444.80 647.20L471.82 636.20L498.85 622.10L525.88 605.90L552.90 585.20L579.92 561.50L606.95 534.20" fill="none" stroke="#5e2b73" stroke-width="1.5" stroke-linejoin="round"/>
<path d="M228.60 464.15L235.30 475.85L221.90 475.85Z" fill="#7a2e8f" stroke="#5c2270" stroke-width="0.9" stroke-linejoin="round"/>
<path d="M255.62 571.95L262.32 583.65L248.93 583.65Z" fill="#7a2e8f" stroke="#5c2270" stroke-width="0.9" stroke-linejoin="round"/>
<path d="M282.65 629.15L289.35 640.85L275.95 640.85Z" fill="#7a2e8f" stroke="#5c2270" stroke-width="0.9" stroke-linejoin="round"/>
<path d="M309.67 652.75L316.37 664.45L302.97 664.45Z" fill="#7a2e8f" stroke="#5c2270" stroke-width="0.9" stroke-linejoin="round"/>
<path d="M336.70 655.15L343.40 666.85L330.00 666.85Z" fill="#7a2e8f" stroke="#5c2270" stroke-width="0.9" stroke-linejoin="round"/>
<path d="M363.73 654.65L370.43 666.35L357.03 666.35Z" fill="#7a2e8f" stroke="#5c2270" stroke-width="0.9" stroke-linejoin="round"/>
<path d="M390.75 653.95L397.45 665.65L384.05 665.65Z" fill="#7a2e8f" stroke="#5c2270" stroke-width="0.9" stroke-linejoin="round"/>
<path d="M417.77 647.85L424.47 659.55L411.07 659.55Z" fill="#7a2e8f" stroke="#5c2270" stroke-width="0.9" stroke-linejoin="round"/>
<path d="M444.80 639.35L451.50 651.05L438.10 651.05Z" fill="#7a2e8f" stroke="#5c2270" stroke-width="0.9" stroke-linejoin="round"/>
<path d="M471.82 628.35L478.52 640.05L465.12 640.05Z" fill="#7a2e8f" stroke="#5c2270" stroke-width="0.9" stroke-linejoin="round"/>
<path d="M498.85 614.25L505.55 625.95L492.15 625.95Z" fill="#7a2e8f" stroke="#5c2270" stroke-width="0.9" stroke-linejoin="round"/>
<path d="M525.88 598.05L532.58 609.75L519.17 609.75Z" fill="#7a2e8f" stroke="#5c2270" stroke-width="0.9" stroke-linejoin="round"/>
<path d="M552.90 577.35L559.60 589.05L546.20 589.05Z" fill="#7a2e8f" stroke="#5c2270" stroke-width="0.9" stroke-linejoin="round"/>
<path d="M579.92 553.65L586.62 565.35L573.22 565.35Z" fill="#7a2e8f" stroke="#5c2270" stroke-width="0.9" stroke-linejoin="round"/>
<path d="M606.95 526.35L613.65 538.05L600.25 538.05Z" fill="#7a2e8f" stroke="#5c2270" stroke-width="0.9" stroke-linejoin="round"/>
<path d="M228.60 518.20L255.62 622.00L282.65 693.40L309.67 731.10L336.70 745.70L363.73 745.70L390.75 729.40L417.77 704.30L444.80 676.80L471.82 647.20L498.85 615.40L525.88 583.70L552.90 548.00L579.92 510.90L606.95 473.90" fill="none" stroke="#1c2060" stroke-width="1.7" stroke-linejoin="round"/>
<path d="M221.90 514.35L235.30 514.35L228.60 526.05Z" fill="#2e3192" stroke="#23277a" stroke-width="0.9" stroke-linejoin="round"/>
<path d="M248.93 618.15L262.32 618.15L255.62 629.85Z" fill="#2e3192" stroke="#23277a" stroke-width="0.9" stroke-linejoin="round"/>
<path d="M275.95 689.55L289.35 689.55L282.65 701.25Z" fill="#2e3192" stroke="#23277a" stroke-width="0.9" stroke-linejoin="round"/>
<path d="M302.97 727.25L316.37 727.25L309.67 738.95Z" fill="#2e3192" stroke="#23277a" stroke-width="0.9" stroke-linejoin="round"/>
<path d="M330.00 741.85L343.40 741.85L336.70 753.55Z" fill="#2e3192" stroke="#23277a" stroke-width="0.9" stroke-linejoin="round"/>
<path d="M357.03 741.85L370.43 741.85L363.73 753.55Z" fill="#2e3192" stroke="#23277a" stroke-width="0.9" stroke-linejoin="round"/>
<path d="M384.05 725.55L397.45 725.55L390.75 737.25Z" fill="#2e3192" stroke="#23277a" stroke-width="0.9" stroke-linejoin="round"/>
<path d="M411.07 700.45L424.47 700.45L417.77 712.15Z" fill="#2e3192" stroke="#23277a" stroke-width="0.9" stroke-linejoin="round"/>
<path d="M438.10 672.95L451.50 672.95L444.80 684.65Z" fill="#2e3192" stroke="#23277a" stroke-width="0.9" stroke-linejoin="round"/>
<path d="M465.12 643.35L478.52 643.35L471.82 655.05Z" fill="#2e3192" stroke="#23277a" stroke-width="0.9" stroke-linejoin="round"/>
<path d="M492.15 611.55L505.55 611.55L498.85 623.25Z" fill="#2e3192" stroke="#23277a" stroke-width="0.9" stroke-linejoin="round"/>
<path d="M519.17 579.85L532.58 579.85L525.88 591.55Z" fill="#2e3192" stroke="#23277a" stroke-width="0.9" stroke-linejoin="round"/>
<path d="M546.20 544.15L559.60 544.15L552.90 555.85Z" fill="#2e3192" stroke="#23277a" stroke-width="0.9" stroke-linejoin="round"/>
<path d="M573.22 507.05L586.62 507.05L579.92 518.75Z" fill="#2e3192" stroke="#23277a" stroke-width="0.9" stroke-linejoin="round"/>
<path d="M600.25 470.05L613.65 470.05L606.95 481.75Z" fill="#2e3192" stroke="#23277a" stroke-width="0.9" stroke-linejoin="round"/>
<path d="M837.1 433.2V789.0H1323.00" fill="none" stroke="#231f20" stroke-width="2.1"/>
<line x1="890.60" y1="789.0" x2="890.60" y2="775.40" stroke="#231f20" stroke-width="2.1"/>
<text x="890.60" y="837.00" font-size="41.5" text-anchor="middle">0.8</text>
<line x1="998.70" y1="789.0" x2="998.70" y2="775.40" stroke="#231f20" stroke-width="2.1"/>
<text x="998.70" y="837.00" font-size="41.5" text-anchor="middle">1.0</text>
<line x1="1106.80" y1="789.0" x2="1106.80" y2="775.40" stroke="#231f20" stroke-width="2.1"/>
<text x="1106.80" y="837.00" font-size="41.5" text-anchor="middle">1.2</text>
<line x1="1214.90" y1="789.0" x2="1214.90" y2="775.40" stroke="#231f20" stroke-width="2.1"/>
<text x="1214.90" y="837.00" font-size="41.5" text-anchor="middle">1.4</text>
<line x1="1323.00" y1="789.0" x2="1323.00" y2="775.40" stroke="#231f20" stroke-width="2.1"/>
<text x="1323.00" y="837.00" font-size="41.5" text-anchor="middle">1.6</text>
<line x1="837.1" y1="472.60" x2="851.60" y2="472.60" stroke="#231f20" stroke-width="2.1"/>
<rect x="730.13" y="472.55" width="25" height="2.1"/>
<text y="484.60" font-size="41.5"><tspan x="756.10">7</tspan><tspan x="776.85">.</tspan><tspan x="784.22">1</tspan><tspan x="801.97">5</tspan></text>
<line x1="837.1" y1="551.83" x2="851.60" y2="551.83" stroke="#231f20" stroke-width="2.1"/>
<rect x="724.09" y="551.78" width="25" height="2.1"/>
<text y="563.83" font-size="41.5"><tspan x="750.06">7</tspan><tspan x="770.81">.</tspan><tspan x="781.18">2</tspan><tspan x="801.93">0</tspan></text>
<line x1="837.1" y1="631.06" x2="851.60" y2="631.06" stroke="#231f20" stroke-width="2.1"/>
<rect x="724.13" y="631.01" width="25" height="2.1"/>
<text y="643.06" font-size="41.5"><tspan x="750.10">7</tspan><tspan x="770.85">.</tspan><tspan x="781.22">2</tspan><tspan x="801.97">5</tspan></text>
<line x1="837.1" y1="710.29" x2="851.60" y2="710.29" stroke="#231f20" stroke-width="2.1"/>
<rect x="724.09" y="710.24" width="25" height="2.1"/>
<text y="722.29" font-size="41.5"><tspan x="750.06">7</tspan><tspan x="770.81">.</tspan><tspan x="781.18">3</tspan><tspan x="801.93">0</tspan></text>
<text y="756.80" font-size="41.5"><tspan x="862.61">G</tspan><tspan x="896.20">e</tspan></text>
<path d="M891.40 474.20L918.42 552.10L945.45 625.50L972.47 657.40L999.50 663.90L1026.53 660.30L1053.55 650.70L1080.58 636.50L1107.60 627.00L1134.62 617.80L1161.65 606.30L1188.67 592.00L1215.70 575.20L1242.72 553.80L1269.75 526.10" fill="none" stroke="#e39a34" stroke-width="1.5" stroke-linejoin="round"/>
<rect x="886.10" y="468.90" width="10.60" height="10.60" fill="#f5821f" stroke="#e8761c" stroke-width="0.9" stroke-linejoin="round"/>
<rect x="913.12" y="546.80" width="10.60" height="10.60" fill="#f5821f" stroke="#e8761c" stroke-width="0.9" stroke-linejoin="round"/>
<rect x="940.15" y="620.20" width="10.60" height="10.60" fill="#f5821f" stroke="#e8761c" stroke-width="0.9" stroke-linejoin="round"/>
<rect x="967.17" y="652.10" width="10.60" height="10.60" fill="#f5821f" stroke="#e8761c" stroke-width="0.9" stroke-linejoin="round"/>
<rect x="994.20" y="658.60" width="10.60" height="10.60" fill="#f5821f" stroke="#e8761c" stroke-width="0.9" stroke-linejoin="round"/>
<rect x="1021.23" y="655.00" width="10.60" height="10.60" fill="#f5821f" stroke="#e8761c" stroke-width="0.9" stroke-linejoin="round"/>
<rect x="1048.25" y="645.40" width="10.60" height="10.60" fill="#f5821f" stroke="#e8761c" stroke-width="0.9" stroke-linejoin="round"/>
<rect x="1075.28" y="631.20" width="10.60" height="10.60" fill="#f5821f" stroke="#e8761c" stroke-width="0.9" stroke-linejoin="round"/>
<rect x="1102.30" y="621.70" width="10.60" height="10.60" fill="#f5821f" stroke="#e8761c" stroke-width="0.9" stroke-linejoin="round"/>
<rect x="1129.33" y="612.50" width="10.60" height="10.60" fill="#f5821f" stroke="#e8761c" stroke-width="0.9" stroke-linejoin="round"/>
<rect x="1156.35" y="601.00" width="10.60" height="10.60" fill="#f5821f" stroke="#e8761c" stroke-width="0.9" stroke-linejoin="round"/>
<rect x="1183.38" y="586.70" width="10.60" height="10.60" fill="#f5821f" stroke="#e8761c" stroke-width="0.9" stroke-linejoin="round"/>
<rect x="1210.40" y="569.90" width="10.60" height="10.60" fill="#f5821f" stroke="#e8761c" stroke-width="0.9" stroke-linejoin="round"/>
<rect x="1237.42" y="548.50" width="10.60" height="10.60" fill="#f5821f" stroke="#e8761c" stroke-width="0.9" stroke-linejoin="round"/>
<rect x="1264.45" y="520.80" width="10.60" height="10.60" fill="#f5821f" stroke="#e8761c" stroke-width="0.9" stroke-linejoin="round"/>
<path d="M891.40 485.60L918.42 590.70L945.45 655.30L972.47 688.30L999.50 694.90L1026.53 689.00L1053.55 678.60L1080.58 666.90L1107.60 653.00L1134.62 638.30L1161.65 621.20L1188.67 598.30L1215.70 569.10L1242.72 533.40L1269.75 492.00" fill="none" stroke="#c8202a" stroke-width="1.5" stroke-linejoin="round"/>
<circle cx="891.40" cy="485.60" r="5.40" fill="#ed1c24" stroke="#d81a22" stroke-width="0.9" stroke-linejoin="round"/>
<circle cx="918.42" cy="590.70" r="5.40" fill="#ed1c24" stroke="#d81a22" stroke-width="0.9" stroke-linejoin="round"/>
<circle cx="945.45" cy="655.30" r="5.40" fill="#ed1c24" stroke="#d81a22" stroke-width="0.9" stroke-linejoin="round"/>
<circle cx="972.47" cy="688.30" r="5.40" fill="#ed1c24" stroke="#d81a22" stroke-width="0.9" stroke-linejoin="round"/>
<circle cx="999.50" cy="694.90" r="5.40" fill="#ed1c24" stroke="#d81a22" stroke-width="0.9" stroke-linejoin="round"/>
<circle cx="1026.53" cy="689.00" r="5.40" fill="#ed1c24" stroke="#d81a22" stroke-width="0.9" stroke-linejoin="round"/>
<circle cx="1053.55" cy="678.60" r="5.40" fill="#ed1c24" stroke="#d81a22" stroke-width="0.9" stroke-linejoin="round"/>
<circle cx="1080.58" cy="666.90" r="5.40" fill="#ed1c24" stroke="#d81a22" stroke-width="0.9" stroke-linejoin="round"/>
<circle cx="1107.60" cy="653.00" r="5.40" fill="#ed1c24" stroke="#d81a22" stroke-width="0.9" stroke-linejoin="round"/>
<circle cx="1134.62" cy="638.30" r="5.40" fill="#ed1c24" stroke="#d81a22" stroke-width="0.9" stroke-linejoin="round"/>
<circle cx="1161.65" cy="621.20" r="5.40" fill="#ed1c24" stroke="#d81a22" stroke-width="0.9" stroke-linejoin="round"/>
<circle cx="1188.67" cy="598.30" r="5.40" fill="#ed1c24" stroke="#d81a22" stroke-width="0.9" stroke-linejoin="round"/>
<circle cx="1215.70" cy="569.10" r="5.40" fill="#ed1c24" stroke="#d81a22" stroke-width="0.9" stroke-linejoin="round"/>
<circle cx="1242.72" cy="533.40" r="5.40" fill="#ed1c24" stroke="#d81a22" stroke-width="0.9" stroke-linejoin="round"/>
<circle cx="1269.75" cy="492.00" r="5.40" fill="#ed1c24" stroke="#d81a22" stroke-width="0.9" stroke-linejoin="round"/>
<path d="M891.40 458.70L918.42 574.60L945.45 630.30L972.47 647.90L999.50 643.90L1026.53 642.80L1053.55 649.10L1080.58 651.00L1107.60 650.10L1134.62 647.70L1161.65 640.40L1188.67 626.00L1215.70 608.00L1242.72 582.20L1269.75 551.20" fill="none" stroke="#5e2b73" stroke-width="1.5" stroke-linejoin="round"/>
<path d="M891.40 450.85L898.10 462.55L884.70 462.55Z" fill="#7a2e8f" stroke="#5c2270" stroke-width="0.9" stroke-linejoin="round"/>
<path d="M918.42 566.75L925.12 578.45L911.72 578.45Z" fill="#7a2e8f" stroke="#5c2270" stroke-width="0.9" stroke-linejoin="round"/>
<path d="M945.45 622.45L952.15 634.15L938.75 634.15Z" fill="#7a2e8f" stroke="#5c2270" stroke-width="0.9" stroke-linejoin="round"/>
<path d="M972.47 640.05L979.17 651.75L965.77 651.75Z" fill="#7a2e8f" stroke="#5c2270" stroke-width="0.9" stroke-linejoin="round"/>
<path d="M999.50 636.05L1006.20 647.75L992.80 647.75Z" fill="#7a2e8f" stroke="#5c2270" stroke-width="0.9" stroke-linejoin="round"/>
<path d="M1026.53 634.95L1033.23 646.65L1019.83 646.65Z" fill="#7a2e8f" stroke="#5c2270" stroke-width="0.9" stroke-linejoin="round"/>
<path d="M1053.55 641.25L1060.25 652.95L1046.85 652.95Z" fill="#7a2e8f" stroke="#5c2270" stroke-width="0.9" stroke-linejoin="round"/>
<path d="M1080.58 643.15L1087.28 654.85L1073.88 654.85Z" fill="#7a2e8f" stroke="#5c2270" stroke-width="0.9" stroke-linejoin="round"/>
<path d="M1107.60 642.25L1114.30 653.95L1100.90 653.95Z" fill="#7a2e8f" stroke="#5c2270" stroke-width="0.9" stroke-linejoin="round"/>
<path d="M1134.62 639.85L1141.33 651.55L1127.92 651.55Z" fill="#7a2e8f" stroke="#5c2270" stroke-width="0.9" stroke-linejoin="round"/>
<path d="M1161.65 632.55L1168.35 644.25L1154.95 644.25Z" fill="#7a2e8f" stroke="#5c2270" stroke-width="0.9" stroke-linejoin="round"/>
<path d="M1188.67 618.15L1195.38 629.85L1181.97 629.85Z" fill="#7a2e8f" stroke="#5c2270" stroke-width="0.9" stroke-linejoin="round"/>
<path d="M1215.70 600.15L1222.40 611.85L1209.00 611.85Z" fill="#7a2e8f" stroke="#5c2270" stroke-width="0.9" stroke-linejoin="round"/>
<path d="M1242.72 574.35L1249.42 586.05L1236.02 586.05Z" fill="#7a2e8f" stroke="#5c2270" stroke-width="0.9" stroke-linejoin="round"/>
<path d="M1269.75 543.35L1276.45 555.05L1263.05 555.05Z" fill="#7a2e8f" stroke="#5c2270" stroke-width="0.9" stroke-linejoin="round"/>
<path d="M891.40 496.30L918.42 611.00L945.45 688.50L972.47 728.00L999.50 744.50L1026.53 746.50L1053.55 732.40L1080.58 709.20L1107.60 683.20L1134.62 653.90L1161.65 625.30L1188.67 593.60L1215.70 558.40L1242.72 518.70L1269.75 473.20" fill="none" stroke="#1c2060" stroke-width="1.7" stroke-linejoin="round"/>
<path d="M884.70 492.45L898.10 492.45L891.40 504.15Z" fill="#2e3192" stroke="#23277a" stroke-width="0.9" stroke-linejoin="round"/>
<path d="M911.72 607.15L925.12 607.15L918.42 618.85Z" fill="#2e3192" stroke="#23277a" stroke-width="0.9" stroke-linejoin="round"/>
<path d="M938.75 684.65L952.15 684.65L945.45 696.35Z" fill="#2e3192" stroke="#23277a" stroke-width="0.9" stroke-linejoin="round"/>
<path d="M965.77 724.15L979.17 724.15L972.47 735.85Z" fill="#2e3192" stroke="#23277a" stroke-width="0.9" stroke-linejoin="round"/>
<path d="M992.80 740.65L1006.20 740.65L999.50 752.35Z" fill="#2e3192" stroke="#23277a" stroke-width="0.9" stroke-linejoin="round"/>
<path d="M1019.83 742.65L1033.23 742.65L1026.53 754.35Z" fill="#2e3192" stroke="#23277a" stroke-width="0.9" stroke-linejoin="round"/>
<path d="M1046.85 728.55L1060.25 728.55L1053.55 740.25Z" fill="#2e3192" stroke="#23277a" stroke-width="0.9" stroke-linejoin="round"/>
<path d="M1073.88 705.35L1087.28 705.35L1080.58 717.05Z" fill="#2e3192" stroke="#23277a" stroke-width="0.9" stroke-linejoin="round"/>
<path d="M1100.90 679.35L1114.30 679.35L1107.60 691.05Z" fill="#2e3192" stroke="#23277a" stroke-width="0.9" stroke-linejoin="round"/>
<path d="M1127.92 650.05L1141.33 650.05L1134.62 661.75Z" fill="#2e3192" stroke="#23277a" stroke-width="0.9" stroke-linejoin="round"/>
<path d="M1154.95 621.45L1168.35 621.45L1161.65 633.15Z" fill="#2e3192" stroke="#23277a" stroke-width="0.9" stroke-linejoin="round"/>
<path d="M1181.97 589.75L1195.38 589.75L1188.67 601.45Z" fill="#2e3192" stroke="#23277a" stroke-width="0.9" stroke-linejoin="round"/>
<path d="M1209.00 554.55L1222.40 554.55L1215.70 566.25Z" fill="#2e3192" stroke="#23277a" stroke-width="0.9" stroke-linejoin="round"/>
<path d="M1236.02 514.85L1249.42 514.85L1242.72 526.55Z" fill="#2e3192" stroke="#23277a" stroke-width="0.9" stroke-linejoin="round"/>
<path d="M1263.05 469.35L1276.45 469.35L1269.75 481.05Z" fill="#2e3192" stroke="#23277a" stroke-width="0.9" stroke-linejoin="round"/>
<path d="M1501.3 433.2V789.0H1986.70" fill="none" stroke="#231f20" stroke-width="2.1"/>
<line x1="1554.30" y1="789.0" x2="1554.30" y2="775.40" stroke="#231f20" stroke-width="2.1"/>
<text x="1554.30" y="837.00" font-size="41.5" text-anchor="middle">0.8</text>
<line x1="1662.40" y1="789.0" x2="1662.40" y2="775.40" stroke="#231f20" stroke-width="2.1"/>
<text x="1662.40" y="837.00" font-size="41.5" text-anchor="middle">1.0</text>
<line x1="1770.50" y1="789.0" x2="1770.50" y2="775.40" stroke="#231f20" stroke-width="2.1"/>
<text x="1770.50" y="837.00" font-size="41.5" text-anchor="middle">1.2</text>
<line x1="1878.60" y1="789.0" x2="1878.60" y2="775.40" stroke="#231f20" stroke-width="2.1"/>
<text x="1878.60" y="837.00" font-size="41.5" text-anchor="middle">1.4</text>
<line x1="1986.70" y1="789.0" x2="1986.70" y2="775.40" stroke="#231f20" stroke-width="2.1"/>
<text x="1986.70" y="837.00" font-size="41.5" text-anchor="middle">1.6</text>
<line x1="1501.3" y1="477.80" x2="1515.80" y2="477.80" stroke="#231f20" stroke-width="2.1"/>
<rect x="1387.34" y="477.75" width="25" height="2.1"/>
<text y="489.80" font-size="41.5"><tspan x="1414.26">6</tspan><tspan x="1435.01">.</tspan><tspan x="1445.38">9</tspan><tspan x="1466.13">0</tspan></text>
<line x1="1501.3" y1="567.27" x2="1515.80" y2="567.27" stroke="#231f20" stroke-width="2.1"/>
<rect x="1387.38" y="567.22" width="25" height="2.1"/>
<text y="579.27" font-size="41.5"><tspan x="1414.30">6</tspan><tspan x="1435.05">.</tspan><tspan x="1445.42">9</tspan><tspan x="1466.17">5</tspan></text>
<line x1="1501.3" y1="656.74" x2="1515.80" y2="656.74" stroke="#231f20" stroke-width="2.1"/>
<rect x="1388.29" y="656.69" width="25" height="2.1"/>
<text y="668.74" font-size="41.5"><tspan x="1414.26">7</tspan><tspan x="1435.01">.</tspan><tspan x="1445.38">0</tspan><tspan x="1466.13">0</tspan></text>
<line x1="1501.3" y1="746.21" x2="1515.80" y2="746.21" stroke="#231f20" stroke-width="2.1"/>
<rect x="1388.33" y="746.16" width="25" height="2.1"/>
<text y="758.21" font-size="41.5"><tspan x="1414.30">7</tspan><tspan x="1435.05">.</tspan><tspan x="1445.42">0</tspan><tspan x="1466.17">5</tspan></text>
<text y="756.80" font-size="41.5"><tspan x="1529.36">S</tspan><tspan x="1554.36">n</tspan></text>
<path d="M1554.80 473.00L1581.83 573.60L1608.85 633.40L1635.88 659.80L1662.90 663.90L1689.92 659.80L1716.95 649.50L1743.97 639.40L1771.00 631.70L1798.02 624.40L1825.05 616.10L1852.07 607.70L1879.10 587.10L1906.12 562.80L1933.15 530.20" fill="none" stroke="#e39a34" stroke-width="1.5" stroke-linejoin="round"/>
<rect x="1549.50" y="467.70" width="10.60" height="10.60" fill="#f5821f" stroke="#e8761c" stroke-width="0.9" stroke-linejoin="round"/>
<rect x="1576.53" y="568.30" width="10.60" height="10.60" fill="#f5821f" stroke="#e8761c" stroke-width="0.9" stroke-linejoin="round"/>
<rect x="1603.55" y="628.10" width="10.60" height="10.60" fill="#f5821f" stroke="#e8761c" stroke-width="0.9" stroke-linejoin="round"/>
<rect x="1630.58" y="654.50" width="10.60" height="10.60" fill="#f5821f" stroke="#e8761c" stroke-width="0.9" stroke-linejoin="round"/>
<rect x="1657.60" y="658.60" width="10.60" height="10.60" fill="#f5821f" stroke="#e8761c" stroke-width="0.9" stroke-linejoin="round"/>
<rect x="1684.62" y="654.50" width="10.60" height="10.60" fill="#f5821f" stroke="#e8761c" stroke-width="0.9" stroke-linejoin="round"/>
<rect x="1711.65" y="644.20" width="10.60" height="10.60" fill="#f5821f" stroke="#e8761c" stroke-width="0.9" stroke-linejoin="round"/>
<rect x="1738.67" y="634.10" width="10.60" height="10.60" fill="#f5821f" stroke="#e8761c" stroke-width="0.9" stroke-linejoin="round"/>
<rect x="1765.70" y="626.40" width="10.60" height="10.60" fill="#f5821f" stroke="#e8761c" stroke-width="0.9" stroke-linejoin="round"/>
<rect x="1792.72" y="619.10" width="10.60" height="10.60" fill="#f5821f" stroke="#e8761c" stroke-width="0.9" stroke-linejoin="round"/>
<rect x="1819.75" y="610.80" width="10.60" height="10.60" fill="#f5821f" stroke="#e8761c" stroke-width="0.9" stroke-linejoin="round"/>
<rect x="1846.77" y="602.40" width="10.60" height="10.60" fill="#f5821f" stroke="#e8761c" stroke-width="0.9" stroke-linejoin="round"/>
<rect x="1873.80" y="581.80" width="10.60" height="10.60" fill="#f5821f" stroke="#e8761c" stroke-width="0.9" stroke-linejoin="round"/>
<rect x="1900.83" y="557.50" width="10.60" height="10.60" fill="#f5821f" stroke="#e8761c" stroke-width="0.9" stroke-linejoin="round"/>
<rect x="1927.85" y="524.90" width="10.60" height="10.60" fill="#f5821f" stroke="#e8761c" stroke-width="0.9" stroke-linejoin="round"/>
<path d="M1554.80 485.60L1581.83 592.20L1608.85 653.50L1635.88 682.20L1662.90 687.10L1689.92 681.00L1716.95 673.70L1743.97 664.30L1771.00 654.30L1798.02 641.20L1825.05 625.50L1852.07 603.00L1879.10 576.00L1906.12 539.90L1933.15 495.40" fill="none" stroke="#c8202a" stroke-width="1.5" stroke-linejoin="round"/>
<circle cx="1554.80" cy="485.60" r="5.40" fill="#ed1c24" stroke="#d81a22" stroke-width="0.9" stroke-linejoin="round"/>
<circle cx="1581.83" cy="592.20" r="5.40" fill="#ed1c24" stroke="#d81a22" stroke-width="0.9" stroke-linejoin="round"/>
<circle cx="1608.85" cy="653.50" r="5.40" fill="#ed1c24" stroke="#d81a22" stroke-width="0.9" stroke-linejoin="round"/>
<circle cx="1635.88" cy="682.20" r="5.40" fill="#ed1c24" stroke="#d81a22" stroke-width="0.9" stroke-linejoin="round"/>
<circle cx="1662.90" cy="687.10" r="5.40" fill="#ed1c24" stroke="#d81a22" stroke-width="0.9" stroke-linejoin="round"/>
<circle cx="1689.92" cy="681.00" r="5.40" fill="#ed1c24" stroke="#d81a22" stroke-width="0.9" stroke-linejoin="round"/>
<circle cx="1716.95" cy="673.70" r="5.40" fill="#ed1c24" stroke="#d81a22" stroke-width="0.9" stroke-linejoin="round"/>
<circle cx="1743.97" cy="664.30" r="5.40" fill="#ed1c24" stroke="#d81a22" stroke-width="0.9" stroke-linejoin="round"/>
<circle cx="1771.00" cy="654.30" r="5.40" fill="#ed1c24" stroke="#d81a22" stroke-width="0.9" stroke-linejoin="round"/>
<circle cx="1798.02" cy="641.20" r="5.40" fill="#ed1c24" stroke="#d81a22" stroke-width="0.9" stroke-linejoin="round"/>
<circle cx="1825.05" cy="625.50" r="5.40" fill="#ed1c24" stroke="#d81a22" stroke-width="0.9" stroke-linejoin="round"/>
<circle cx="1852.07" cy="603.00" r="5.40" fill="#ed1c24" stroke="#d81a22" stroke-width="0.9" stroke-linejoin="round"/>
<circle cx="1879.10" cy="576.00" r="5.40" fill="#ed1c24" stroke="#d81a22" stroke-width="0.9" stroke-linejoin="round"/>
<circle cx="1906.12" cy="539.90" r="5.40" fill="#ed1c24" stroke="#d81a22" stroke-width="0.9" stroke-linejoin="round"/>
<circle cx="1933.15" cy="495.40" r="5.40" fill="#ed1c24" stroke="#d81a22" stroke-width="0.9" stroke-linejoin="round"/>
<path d="M1554.80 464.70L1581.83 585.00L1608.85 638.00L1635.88 649.80L1662.90 644.30L1689.92 639.10L1716.95 642.80L1743.97 647.70L1771.00 651.20L1798.02 652.20L1825.05 646.10L1852.07 633.70L1879.10 615.00L1906.12 588.50L1933.15 553.20" fill="none" stroke="#5e2b73" stroke-width="1.5" stroke-linejoin="round"/>
<path d="M1554.80 456.85L1561.50 468.55L1548.10 468.55Z" fill="#7a2e8f" stroke="#5c2270" stroke-width="0.9" stroke-linejoin="round"/>
<path d="M1581.83 577.15L1588.53 588.85L1575.12 588.85Z" fill="#7a2e8f" stroke="#5c2270" stroke-width="0.9" stroke-linejoin="round"/>
<path d="M1608.85 630.15L1615.55 641.85L1602.15 641.85Z" fill="#7a2e8f" stroke="#5c2270" stroke-width="0.9" stroke-linejoin="round"/>
<path d="M1635.88 641.95L1642.58 653.65L1629.17 653.65Z" fill="#7a2e8f" stroke="#5c2270" stroke-width="0.9" stroke-linejoin="round"/>
<path d="M1662.90 636.45L1669.60 648.15L1656.20 648.15Z" fill="#7a2e8f" stroke="#5c2270" stroke-width="0.9" stroke-linejoin="round"/>
<path d="M1689.92 631.25L1696.62 642.95L1683.22 642.95Z" fill="#7a2e8f" stroke="#5c2270" stroke-width="0.9" stroke-linejoin="round"/>
<path d="M1716.95 634.95L1723.65 646.65L1710.25 646.65Z" fill="#7a2e8f" stroke="#5c2270" stroke-width="0.9" stroke-linejoin="round"/>
<path d="M1743.97 639.85L1750.67 651.55L1737.27 651.55Z" fill="#7a2e8f" stroke="#5c2270" stroke-width="0.9" stroke-linejoin="round"/>
<path d="M1771.00 643.35L1777.70 655.05L1764.30 655.05Z" fill="#7a2e8f" stroke="#5c2270" stroke-width="0.9" stroke-linejoin="round"/>
<path d="M1798.02 644.35L1804.72 656.05L1791.32 656.05Z" fill="#7a2e8f" stroke="#5c2270" stroke-width="0.9" stroke-linejoin="round"/>
<path d="M1825.05 638.25L1831.75 649.95L1818.35 649.95Z" fill="#7a2e8f" stroke="#5c2270" stroke-width="0.9" stroke-linejoin="round"/>
<path d="M1852.07 625.85L1858.77 637.55L1845.37 637.55Z" fill="#7a2e8f" stroke="#5c2270" stroke-width="0.9" stroke-linejoin="round"/>
<path d="M1879.10 607.15L1885.80 618.85L1872.40 618.85Z" fill="#7a2e8f" stroke="#5c2270" stroke-width="0.9" stroke-linejoin="round"/>
<path d="M1906.12 580.65L1912.83 592.35L1899.42 592.35Z" fill="#7a2e8f" stroke="#5c2270" stroke-width="0.9" stroke-linejoin="round"/>
<path d="M1933.15 545.35L1939.85 557.05L1926.45 557.05Z" fill="#7a2e8f" stroke="#5c2270" stroke-width="0.9" stroke-linejoin="round"/>
<path d="M1554.80 482.90L1581.83 597.70L1608.85 676.30L1635.88 716.50L1662.90 737.20L1689.92 743.30L1716.95 734.80L1743.97 717.70L1771.00 696.30L1798.02 672.00L1825.05 642.40L1852.07 608.50L1879.10 571.20L1906.12 527.50L1933.15 476.40" fill="none" stroke="#1c2060" stroke-width="1.7" stroke-linejoin="round"/>
<path d="M1548.10 479.05L1561.50 479.05L1554.80 490.75Z" fill="#2e3192" stroke="#23277a" stroke-width="0.9" stroke-linejoin="round"/>
<path d="M1575.12 593.85L1588.53 593.85L1581.83 605.55Z" fill="#2e3192" stroke="#23277a" stroke-width="0.9" stroke-linejoin="round"/>
<path d="M1602.15 672.45L1615.55 672.45L1608.85 684.15Z" fill="#2e3192" stroke="#23277a" stroke-width="0.9" stroke-linejoin="round"/>
<path d="M1629.17 712.65L1642.58 712.65L1635.88 724.35Z" fill="#2e3192" stroke="#23277a" stroke-width="0.9" stroke-linejoin="round"/>
<path d="M1656.20 733.35L1669.60 733.35L1662.90 745.05Z" fill="#2e3192" stroke="#23277a" stroke-width="0.9" stroke-linejoin="round"/>
<path d="M1683.22 739.45L1696.62 739.45L1689.92 751.15Z" fill="#2e3192" stroke="#23277a" stroke-width="0.9" stroke-linejoin="round"/>
<path d="M1710.25 730.95L1723.65 730.95L1716.95 742.65Z" fill="#2e3192" stroke="#23277a" stroke-width="0.9" stroke-linejoin="round"/>
<path d="M1737.27 713.85L1750.67 713.85L1743.97 725.55Z" fill="#2e3192" stroke="#23277a" stroke-width="0.9" stroke-linejoin="round"/>
<path d="M1764.30 692.45L1777.70 692.45L1771.00 704.15Z" fill="#2e3192" stroke="#23277a" stroke-width="0.9" stroke-linejoin="round"/>
<path d="M1791.32 668.15L1804.72 668.15L1798.02 679.85Z" fill="#2e3192" stroke="#23277a" stroke-width="0.9" stroke-linejoin="round"/>
<path d="M1818.35 638.55L1831.75 638.55L1825.05 650.25Z" fill="#2e3192" stroke="#23277a" stroke-width="0.9" stroke-linejoin="round"/>
<path d="M1845.37 604.65L1858.77 604.65L1852.07 616.35Z" fill="#2e3192" stroke="#23277a" stroke-width="0.9" stroke-linejoin="round"/>
<path d="M1872.40 567.35L1885.80 567.35L1879.10 579.05Z" fill="#2e3192" stroke="#23277a" stroke-width="0.9" stroke-linejoin="round"/>
<path d="M1899.42 523.65L1912.83 523.65L1906.12 535.35Z" fill="#2e3192" stroke="#23277a" stroke-width="0.9" stroke-linejoin="round"/>
<path d="M1926.45 472.55L1939.85 472.55L1933.15 484.25Z" fill="#2e3192" stroke="#23277a" stroke-width="0.9" stroke-linejoin="round"/>
<text transform="translate(34.6 0) rotate(-90)" font-size="41.5"><tspan x="-275.50" font-style="italic">E</tspan><tspan x="-251.17">,</tspan><tspan x="-228.91">э</tspan><tspan x="-209.88">В</tspan><tspan x="-164.51">а</tspan><tspan x="-144.87">т</tspan><tspan x="-126.58">о</tspan><tspan x="-104.47">м</tspan></text>
<line x1="6.8" y1="164.90" x2="42.2" y2="180.90" stroke="#231f20" stroke-width="2.2"/>
<text transform="translate(34.6 0) rotate(-90)" font-size="41.5"><tspan x="-708.50" font-style="italic">E</tspan><tspan x="-684.17">,</tspan><tspan x="-661.91">э</tspan><tspan x="-642.88">В</tspan><tspan x="-597.51">а</tspan><tspan x="-577.87">т</tspan><tspan x="-559.58">о</tspan><tspan x="-537.47">м</tspan></text>
<line x1="6.8" y1="597.90" x2="42.2" y2="613.90" stroke="#231f20" stroke-width="2.2"/>
<text y="886.3" font-size="41.5" font-style="italic"><tspan x="389.72">c</tspan><tspan x="424.76">a</tspan></text>
<line x1="425.10" y1="857.6" x2="408.60" y2="893.0" stroke="#231f20" stroke-width="2.1"/>
<text y="886.3" font-size="41.5" font-style="italic"><tspan x="1051.82">c</tspan><tspan x="1086.86">a</tspan></text>
<line x1="1087.20" y1="857.6" x2="1070.70" y2="893.0" stroke="#231f20" stroke-width="2.1"/>
<text y="886.3" font-size="41.5" font-style="italic"><tspan x="1715.82">c</tspan><tspan x="1750.86">a</tspan></text>
<line x1="1751.20" y1="857.6" x2="1734.70" y2="893.0" stroke="#231f20" stroke-width="2.1"/>
<line x1="189.9" y1="928.5" x2="261.2" y2="928.5" stroke="#d9a257" stroke-width="1.8"/>
<rect x="219.2" y="921.9" width="12.3" height="13.2" fill="#f5821f"/>
<text x="276.3" y="939.9" font-size="41.5">XA</text>
<line x1="387.1" y1="928.3" x2="459.2" y2="928.3" stroke="#8b1a1f" stroke-width="1.9"/>
<circle cx="423.6" cy="928.3" r="7.4" fill="#ed1c24"/>
<text x="471.65" y="939.9" font-size="41.5">T</text>
<text x="499.8" y="923.9" font-size="27" font-style="italic">#</text>
<line x1="551.6" y1="927.8" x2="624.0" y2="927.8" stroke="#9b52a0" stroke-width="1.8"/>
<path d="M587.75 918.1L596.25 932.8L579.25 932.8Z" fill="#7a2e8f"/>
<text x="637.05" y="939.9" font-size="41.5">T</text>
<text x="663.6" y="924.7" font-size="32">c</text>
<line x1="713.3" y1="927.8" x2="786.5" y2="927.8" stroke="#4f5a9c" stroke-width="1.8"/>
<path d="M741.0 922.7L758.0 922.7L749.5 936.6Z" fill="#2e3192"/>
<text x="798.85" y="939.9" font-size="41.5">T</text>
<text x="825.3" y="927.1" font-size="32">p</text>
</svg></body></html>
